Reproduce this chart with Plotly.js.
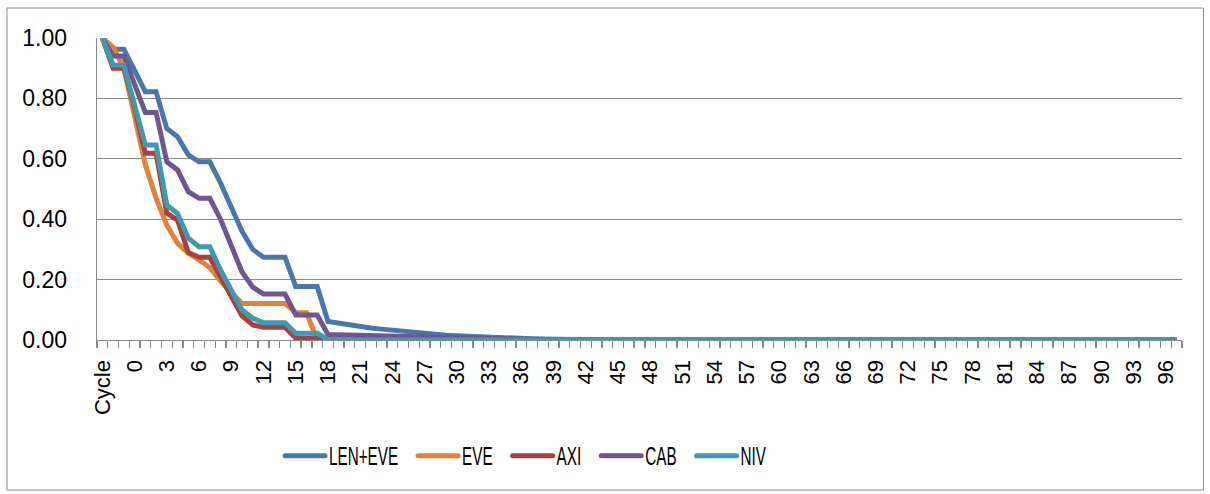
<!DOCTYPE html>
<html>
<head>
<meta charset="utf-8">
<script src="https://cdn.plot.ly/plotly-3.0.1.min.js"></script>
<style>html,body{margin:0;padding:0;background:#fff;}#chart{width:1210px;height:494px;}</style>
</head>
<body>
<div id="chart"></div>
<script>
const categories = ["Cycle","-2","-1","0","1","2","3","4","5","6","7","8","9","10","11","12","13","14","15","16","17","18","19","20","21","22","23","24","25","26","27","28","29","30","31","32","33","34","35","36","37","38","39","40","41","42","43","44","45","46","47","48","49","50","51","52","53","54","55","56","57","58","59","60","61","62","63","64","65","66","67","68","69","70","71","72","73","74","75","76","77","78","79","80","81","82","83","84","85","86","87","88","89","90","91","92","93","94","95","96","97"];

const lenEve = [1.00,0.963,0.963,0.89,0.822,0.822,0.70,0.673,0.613,0.59,0.59,0.52,0.44,0.36,0.30,0.274,0.274,0.274,0.177,0.177,0.177,0.061,0.055,0.050,0.045,0.040,0.036,0.032,0.028,0.025,0.022,0.019,0.016,0.014,0.012,0.010,0.008,0.007,0.006,0.005,0.004,0.003,0.002,0.002,0.001,0,0,0,0,0,0,0,0,0,0,0,0,0,0,0,0,0,0,0,0,0,0,0,0,0,0,0,0,0,0,0,0,0,0,0,0,0,0,0,0,0,0,0,0,0,0,0,0,0,0,0,0,0,0,0,0];

const eve = [1.00,0.97,0.90,0.74,0.58,0.47,0.38,0.32,0.287,0.265,0.24,0.195,0.155,0.121,0.121,0.121,0.121,0.121,0.09,0.09,0,0,0,0,0,0,0,0,0,0,0,0,0,0,0,0,0,0,0,0,0,0,0,0,0,0,0,0,0,0,0,0,0,0,0,0,0,0,0,0,0,0,0,0,0,0,0,0,0,0,0,0,0,0,0,0,0,0,0,0,0,0,0,0,0,0,0,0,0,0,0,0,0,0,0,0,0,0,0,0,0];

const axi = [1.00,0.90,0.90,0.77,0.618,0.618,0.42,0.397,0.29,0.274,0.274,0.21,0.14,0.08,0.05,0.042,0.042,0.042,0.006,0.006,0.006,0,0,0,0,0,0,0,0,0,0,0,0,0,0,0,0,0,0,0,0,0,0,0,0,0,0,0,0,0,0,0,0,0,0,0,0,0,0,0,0,0,0,0,0,0,0,0,0,0,0,0,0,0,0,0,0,0,0,0,0,0,0,0,0,0,0,0,0,0,0,0,0,0,0,0,0,0,0,0,0];

const cab = [1.00,0.94,0.94,0.85,0.753,0.753,0.59,0.563,0.491,0.469,0.469,0.40,0.31,0.225,0.175,0.152,0.152,0.152,0.083,0.083,0.083,0.018,0.017,0.016,0.015,0.014,0.013,0.012,0.011,0.010,0.009,0.008,0.007,0.006,0.005,0.004,0.004,0.003,0.002,0.002,0.001,0,0,0,0,0,0,0,0,0,0,0,0,0,0,0,0,0,0,0,0,0,0,0,0,0,0,0,0,0,0,0,0,0,0,0,0,0,0,0,0,0,0,0,0,0,0,0,0,0,0,0,0,0,0,0,0,0,0,0,0];

const niv = [1.00,0.91,0.91,0.78,0.646,0.646,0.447,0.419,0.337,0.309,0.309,0.232,0.166,0.099,0.072,0.057,0.057,0.057,0.022,0.022,0.022,0.002,0,0,0,0,0,0,0,0,0,0,0,0,0,0,0,0,0,0,0,0,0,0,0,0,0,0,0,0,0,0,0,0,0,0,0,0,0,0,0,0,0,0,0,0,0,0,0,0,0,0,0,0,0,0,0,0,0,0,0,0,0,0,0,0,0,0,0,0,0,0,0,0,0,0,0,0,0,0,0];

const seriesNames = ["LEN+EVE","EVE","AXI","CAB","NIV"];
const seriesValues = [lenEve, eve, axi, cab, niv];
const seriesColors = ["#4A76AE","#E0823A","#A8403D","#6F568F","#3F99B1"];

const tickText = categories.map((c, i) => (i % 3 === 0 ? c : ""));

const traces = seriesNames.map((n, k) => ({
  type: "scatter",
  mode: "lines",
  name: n,
  x: categories,
  y: seriesValues[k],
  line: { color: seriesColors[k], width: 5 },
  hoverinfo: "skip"
}));

const layout = {
  width: 1210,
  height: 494,
  margin: { l: 97, r: 28, t: 38, b: 154, pad: 0 },
  paper_bgcolor: "#fff",
  plot_bgcolor: "#fff",
  font: { family: "Liberation Sans, Arial, sans-serif", color: "#000" },
  xaxis: {
    type: "category",
    range: [-0.5, categories.length - 0.5],
    tickmode: "array",
    tickvals: categories,
    ticktext: tickText,
    tickson: "boundaries",
    ticks: "outside",
    ticklen: 7,
    tickwidth: 1.3,
    tickcolor: "#8a8a8a",
    tickangle: -90,
    ticklabelstandoff: 10,
    tickfont: { family: "Liberation Sans, Arial, sans-serif", size: 22, color: "#000" },
    showgrid: false,
    showline: true,
    linecolor: "#8a8a8a",
    linewidth: 1.3,
    zeroline: false,
    fixedrange: true
  },
  yaxis: {
    range: [0, 1],
    tickmode: "linear",
    tick0: 0,
    dtick: 0.2,
    tickformat: ".2f",
    ticks: "",
    ticklabelstandoff: 24,
    tickfont: { family: "Liberation Sans, Arial, sans-serif", size: 23, color: "#000" },
    showgrid: true,
    gridcolor: "#8a8a8a",
    gridwidth: 1.3,
    showline: true,
    linecolor: "#8a8a8a",
    linewidth: 1.3,
    zeroline: false,
    fixedrange: true
  },
  showlegend: true,
  legend: {
    orientation: "h",
    x: 0.16,
    xanchor: "left",
    y: -0.384,
    yanchor: "middle",
    font: { family: "Liberation Sans, Arial, sans-serif", size: 25, color: "#000" },
    bgcolor: "rgba(0,0,0,0)"
  },
  shapes: [{
    type: "rect", xref: "paper", yref: "paper",
    x0: -0.083, x1: 1.0198, y0: -0.4967, y1: 1.0993,
    line: { color: "#8a8a8a", width: 1 }, fillcolor: "rgba(0,0,0,0)", layer: "below"
  }]
};

Plotly.newPlot("chart", traces, layout, { displayModeBar: false, staticPlot: true }).then(gd => {
  // Narrow the legend text (reference uses a condensed face) and space entries like the original.
  const leg = gd.querySelector("g.legend");
  if (!leg) return;
  const lm = /translate\(\s*([-\d.]+)/.exec(leg.getAttribute("transform") || "");
  const lx = lm ? parseFloat(lm[1]) : 0;
  let x = 285;
  gd.querySelectorAll("g.legend g.traces").forEach(tr => {
    const t = tr.querySelector("text.legendtext");
    const w = t.getComputedTextLength() * 0.61;
    t.setAttribute("textLength", w.toFixed(1));
    t.setAttribute("lengthAdjust", "spacingAndGlyphs");
    t.setAttribute("x", 44);
    tr.querySelectorAll("path.js-line").forEach(p => {
      p.setAttribute("d", "M0,0h40");
      p.style.strokeWidth = "5px";
      p.style.strokeLinecap = "round";
    });
    const m = /translate\(\s*([-\d.]+)[,\s]+([-\d.]+)\s*\)/.exec(tr.getAttribute("transform") || "");
    const ty = m ? m[2] : 0;
    tr.setAttribute("transform", "translate(" + (x - lx) + "," + ty + ")");
    x += 44 + w + 20;
  });
});
</script>
</body>
</html>
